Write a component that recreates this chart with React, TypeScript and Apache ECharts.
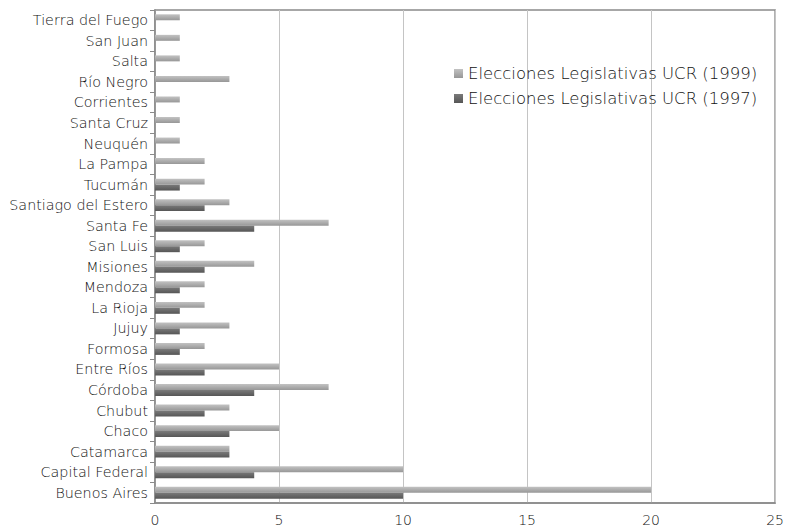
import React, { useEffect, useRef } from "react";
import * as echarts from "echarts";

const categories = [
  "Buenos Aires", "Capital Federal", "Catamarca", "Chaco", "Chubut", "Córdoba",
  "Entre Ríos", "Formosa", "Jujuy", "La Rioja", "Mendoza", "Misiones", "San Luis",
  "Santa Fe", "Santiago del Estero", "Tucumán", "La Pampa", "Neuquén", "Santa Cruz",
  "Corrientes", "Río Negro", "Salta", "San Juan", "Tierra del Fuego",
];
const ucr1999 = [20, 10, 3, 5, 3, 7, 5, 2, 3, 2, 2, 4, 2, 7, 3, 2, 2, 1, 1, 1, 3, 1, 1, 1];
const ucr1997 = [10, 4, 3, 3, 2, 4, 2, 1, 1, 1, 1, 2, 1, 4, 2, 1, 0, 0, 0, 0, 0, 0, 0, 0];
const seriesNames = ["Elecciones Legislativas UCR (1999)", "Elecciones Legislativas UCR (1997)"];
const xTicks = [0, 5, 10, 15, 20, 25];

const FONT = "'DejaVu Sans', 'Open Sans', sans-serif";

export default function App() {
  const ref = useRef<HTMLDivElement>(null);
  useEffect(() => {
    if (!ref.current) return;
    const chart = echarts.init(ref.current, null, { renderer: "svg" });
    const grad = (a: string, b: string) =>
      new echarts.graphic.LinearGradient(0, 0, 0, 1, [
        { offset: 0, color: a },
        { offset: 1, color: b },
      ]);
    chart.setOption({
      animation: false,
      backgroundColor: "#ffffff",
      textStyle: { fontFamily: FONT },
      grid: {
        left: 155,
        right: 7,
        top: 10,
        bottom: 28,
        show: true,
        borderColor: "#8a8a8a",
        borderWidth: 1.5,
        containLabel: false,
      },
      legend: {
        orient: "vertical",
        left: 449,
        top: 60,
        itemWidth: 9,
        itemHeight: 9,
        itemGap: 8,
        icon: "rect",
        textStyle: { fontSize: 16.5, color: "#111", fontFamily: FONT, fontWeight: 200 },
        data: seriesNames,
      },
      xAxis: {
        type: "value",
        min: xTicks[0],
        max: xTicks[xTicks.length - 1],
        interval: 5,
        axisLine: { show: true, lineStyle: { color: "#8a8a8a", width: 1.5 } },
        axisTick: { show: false },
        axisLabel: { color: "#111", fontSize: 14, margin: 10, fontFamily: FONT, fontWeight: 200 },
        splitLine: { show: true, lineStyle: { color: "#c4c4c4", width: 1 } },
      },
      yAxis: {
        type: "category",
        data: categories,
        axisLine: { show: true, lineStyle: { color: "#8a8a8a", width: 1.5 } },
        axisTick: { show: true, length: 5, lineStyle: { color: "#8a8a8a" }, interval: 0 },
        axisLabel: { color: "#111", fontSize: 14.3, margin: 7, interval: 0, fontFamily: FONT, fontWeight: 200 },
      },
      series: [
        {
          name: seriesNames[0],
          type: "bar",
          data: ucr1999,
          barGap: "0%",
          barCategoryGap: "42%",
          itemStyle: { color: grad("#c2c2c2", "#979797") },
        },
        {
          name: seriesNames[1],
          type: "bar",
          data: ucr1997,
          barGap: "0%",
          barCategoryGap: "42%",
          itemStyle: { color: grad("#7a7a7a", "#565656") },
        },
      ],
    });
    return () => chart.dispose();
  }, []);
  return <div ref={ref} style={{ width: 787, height: 531, position: "absolute", left: 0, top: 0 }} />;
}
